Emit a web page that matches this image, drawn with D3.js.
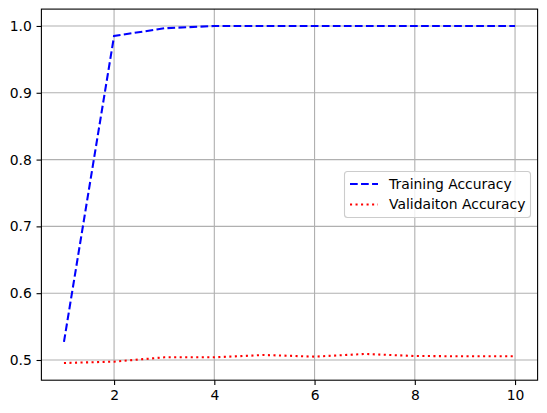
<!DOCTYPE html>
<html><head><meta charset="utf-8">
<script src="https://cdn.jsdelivr.net/npm/d3@7"></script>
<style>body{margin:0;background:#fff}svg{display:block}text{font-family:"DejaVu Sans",sans-serif}</style>
</head><body><svg id="c" width="547" height="413"></svg>
<script>
const epochs = [1,2,3,4,5,6,7,8,9,10];
const trainAcc = [0.527,0.985,0.9965,1.0,1.0,1.0,1.0,1.0,1.0,1.0];
const valAcc = [0.4955,0.4975,0.504,0.504,0.5075,0.505,0.509,0.506,0.5055,0.5055];
const xTicks = [2,4,6,8,10];
const yTicks = [0.5,0.6,0.7,0.8,0.9,1.0];
const seriesNames = ["Training Accuracy","Validaiton Accuracy"];

const svg = d3.select("#c");
const L=41.4,R=537.6,T=9.1,B=380.2;
const x = d3.scaleLinear().domain([0.55,10.45]).range([L,R]);
const ymin=0.495-0.02525, ymax=1.0+0.02525;
const y = d3.scaleLinear().domain([0.46975,1.02525]).range([B,T]);

// grid
const g = svg.append("g");
g.selectAll(".gx").data(xTicks).enter().append("line")
 .attr("x1",d=>x(d)).attr("x2",d=>x(d)).attr("y1",T).attr("y2",B)
 .attr("stroke","#b0b0b0").attr("stroke-width",1.1);
g.selectAll(".gy").data(yTicks).enter().append("line")
 .attr("y1",d=>y(d)).attr("y2",d=>y(d)).attr("x1",L).attr("x2",R)
 .attr("stroke","#b0b0b0").attr("stroke-width",1.1);

const line = d3.line().x((d,i)=>x(epochs[i])).y(d=>y(d));
svg.append("path").datum(trainAcc).attr("d",line).attr("fill","none")
 .attr("stroke","#0000ff").attr("stroke-width",2.08).attr("stroke-dasharray","7.7,3.33");
svg.append("path").datum(valAcc).attr("d",line).attr("fill","none")
 .attr("stroke","#ff0000").attr("stroke-width",2.08).attr("stroke-dasharray","2.08,3.44");

// axes
const xa = svg.append("g").attr("transform",`translate(0,${B})`)
 .call(d3.axisBottom(x).tickValues(xTicks).tickSize(4.86).tickPadding(4.8).tickFormat(d3.format("d")));
const ya = svg.append("g").attr("transform",`translate(${L},0)`)
 .call(d3.axisLeft(y).tickValues(yTicks).tickSize(4.86).tickPadding(4.8).tickFormat(d3.format(".1f")));
[xa,ya].forEach(a=>{a.select(".domain").remove();a.selectAll("text").attr("font-size","13.9px").attr("fill","#000").attr("font-family","DejaVu Sans");a.selectAll("line").attr("stroke","#000").attr("stroke-width",1.1);});
xa.selectAll("text").attr("dy","0.71em");
svg.append("rect").attr("x",L).attr("y",T).attr("width",R-L).attr("height",B-T)
 .attr("fill","none").attr("stroke","#000").attr("stroke-width",1.1);

// legend
const lg = svg.append("g");
lg.append("rect").attr("x",344.5).attr("y",171.5).attr("width",186).attr("height",46).attr("rx",3)
 .attr("fill","#fff").attr("fill-opacity",0.8).attr("stroke","#cccccc").attr("stroke-width",1.1);
const styles=[{c:"#0000ff",d:"7.7,3.33"},{c:"#ff0000",d:"2.08,3.44"}];
seriesNames.forEach((n,i)=>{
  const yy=184+i*20.5;
  lg.append("line").attr("x1",350).attr("x2",378).attr("y1",yy).attr("y2",yy)
   .attr("stroke",styles[i].c).attr("stroke-width",2.08).attr("stroke-dasharray",styles[i].d);
  lg.append("text").attr("x",389).attr("y",yy).attr("dy","0.35em").attr("font-size","13.9px").text(n);
});
</script></body></html>
